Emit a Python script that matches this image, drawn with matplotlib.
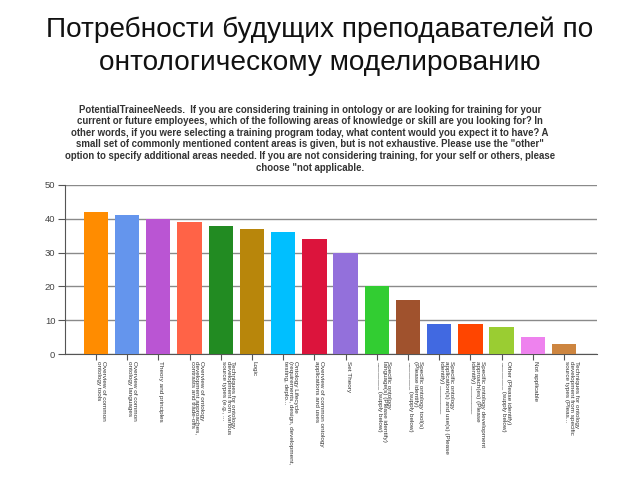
import matplotlib
matplotlib.use("Agg")
import matplotlib.pyplot as plt
import numpy as np

title = "Потребности будущих преподавателей по\nонтологическому моделированию"
subtitle = ("PotentialTraineeNeeds.  If you are considering training in ontology or are looking for training for your\n"
            "current or future employees, which of the following areas of knowledge or skill are you looking for? In\n"
            "other words, if you were selecting a training program today, what content would you expect it to have? A\n"
            "small set of commonly mentioned content areas is given, but is not exhaustive. Please use the \"other\"\n"
            "option to specify additional areas needed. If you are not considering training, for your self or others, please\n"
            "choose \"not applicable.")

categories = [
    "Overview of common\nontology tools",
    "Overview of common\nontology languages",
    "Theory and principles",
    "Overview of ontology\ndevelopment approaches,\ncontrasts and trade-offs",
    "Techniques for ontology\ndevelopment from various\nsource types (e.g., ...",
    "Logic",
    "Ontology Lifecycle\n(requirements, design, development,\ntesting, deplo...",
    "Overview of common ontology\napplications and uses",
    "Set Theory",
    "Specific ontology\nlanguage(s) (Please identify)\n________ (supply below)",
    "Specific ontology tool(s)\n(Please identify)\n________ (supply below)",
    "Specific ontology\napplication(s) and use(s) (Please\nidentify) ________",
    "Specific ontology development\napproach(es) (Please\nidentify) ________",
    "Other (Please identify)\n________ (supply below)",
    "Not applicable",
    "Techniques for ontology\ndevelopment from specific\nsource types (Pleas...",
]
values = [42, 41, 40, 39, 38, 37, 36, 34, 30, 20, 16, 9, 9, 8, 5, 3]
colors = ["#FF8C00", "#6495ED", "#BA55D3", "#FF6347", "#228B22", "#B8860B",
          "#00BFFF", "#DC143C", "#9370DB", "#32CD32", "#A0522D", "#4169E1",
          "#FF4500", "#9ACD32", "#EE82EE", "#CD853F"]
yticks = [0, 10, 20, 30, 40, 50]

plt.rcParams['font.family'] = ['Liberation Sans', 'DejaVu Sans']

fig = plt.figure(figsize=(6.4, 4.8), dpi=100)
fig.text(0.5, 0.966, title, ha='center', va='top', fontsize=20.2,
         color='#111111', linespacing=1.36)
fig.text(0.484, 0.782, subtitle, ha='center', va='top', fontsize=6.9,
         fontweight='bold', color='#333333', linespacing=1.2,
         multialignment='center')

ax = fig.add_axes([0.1016, 0.2625, 0.8313, 0.3521])
x = np.arange(len(values))
ax.bar(x, values, width=0.78, color=colors, zorder=3)
ax.set_xlim(-0.99, len(values) - 1 + 1.06)
ax.set_ylim(0, 50)
ax.set_yticks(yticks)
ax.yaxis.grid(True, color='#8a8a8a', linewidth=1.0, zorder=0)
ax.set_axisbelow(True)
for s in ['top', 'right']:
    ax.spines[s].set_visible(False)
ax.spines['left'].set_color('#555555')
ax.spines['bottom'].set_color('#555555')
ax.tick_params(axis='y', length=5, color='#555555', labelsize=6.8,
               labelcolor='#444444', pad=2)
ax.tick_params(axis='x', length=4, color='#555555', pad=1)
ax.set_xticks(x)
ax.set_xticklabels(categories, rotation=-90, fontsize=4.6, color='#333333',
                   ha='left', va='top', linespacing=0.95)

fig.savefig("out.png", dpi=100)
